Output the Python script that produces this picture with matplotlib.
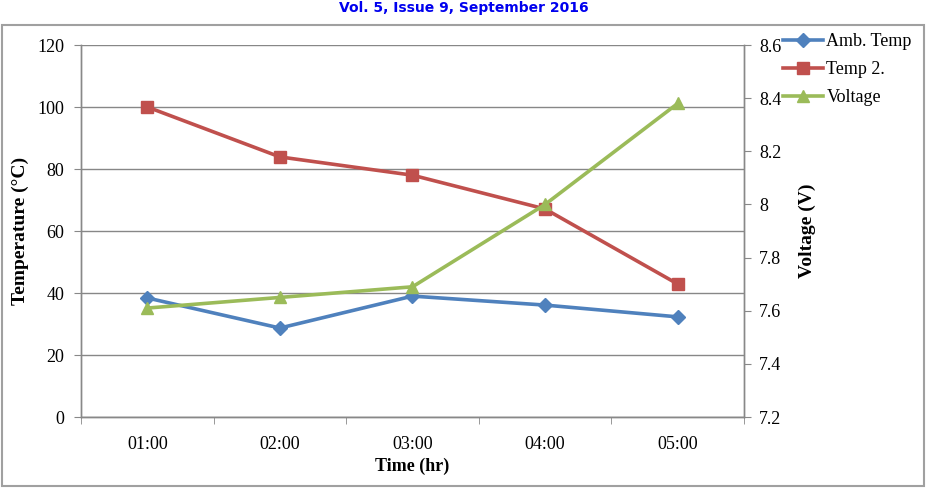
import matplotlib.pyplot as plt
from matplotlib.patches import Rectangle

times = ["01:00", "02:00", "03:00", "04:00", "05:00"]
amb_temp = [38.4, 28.7, 39.0, 36.1, 32.3]
temp2 = [100, 83.9, 78, 67.1, 42.9]
voltage = [7.61, 7.65, 7.69, 8.0, 8.38]

plt.rcParams["font.family"] = ["Liberation Serif", "DejaVu Serif"]

fig = plt.figure(figsize=(9.28, 4.96), dpi=100)
ax = fig.add_axes([81 / 928, 1 - 417 / 496, (744 - 81) / 928, (417 - 45) / 496])
ax2 = ax.twinx()

x = list(range(1, len(times) + 1))
blue = "#4F81BD"
red = "#C0504D"
green = "#9BBB59"

l1, = ax.plot(x, amb_temp, color=blue, lw=2.6, marker="D", ms=7, label="Amb. Temp")
l2, = ax.plot(x, temp2, color=red, lw=2.6, marker="s", ms=8, label="Temp 2.")
l3, = ax2.plot(x, voltage, color=green, lw=2.6, marker="^", ms=9, label="Voltage")

ax.set_xlim(0.5, 5.5)
ax.set_ylim(0, 120)
ax.set_yticks(range(0, 121, 20))
ax2.set_ylim(7.2, 8.6)
ax2.set_yticks([7.2, 7.4, 7.6, 7.8, 8.0, 8.2, 8.4, 8.6])
ax2.set_yticklabels(["7.2", "7.4", "7.6", "7.8", "8", "8.2", "8.4", "8.6"])

ax.set_xticks(x)
ax.set_xticklabels(times)
ax.set_xticks([0.5, 1.5, 2.5, 3.5, 4.5, 5.5], minor=True)
ax.tick_params(axis="x", which="major", length=0, pad=14, labelsize=13)
ax.tick_params(axis="x", which="minor", length=5, color="#888888")
ax.tick_params(axis="y", length=5, color="#888888", labelsize=13, pad=7)
ax2.tick_params(axis="y", length=5, color="#888888", labelsize=13, pad=6)

ax.grid(axis="y", color="#878787", lw=1)
ax.set_axisbelow(True)
for a in (ax, ax2):
    a.spines["top"].set_visible(False)
    for s in ("left", "right", "bottom"):
        a.spines[s].set_color("#888888")
        a.spines[s].set_linewidth(1)

ax.set_xlabel("Time (hr)", fontsize=13, fontweight="bold", labelpad=3)
ax.set_ylabel("Temperature (°C)", fontsize=14, fontweight="bold", labelpad=6)
ax2.set_ylabel("Voltage (V)", fontsize=14, fontweight="bold", labelpad=12)

fig.legend(handles=[l1, l2, l3], loc="upper left", bbox_to_anchor=(783 / 928, 1 - 33 / 496),
           frameon=False, fontsize=13, handlelength=2.2, handletextpad=0.2,
           labelspacing=0.62, borderaxespad=0, borderpad=0)

# outer chart border
fig.patches.append(Rectangle((2 / 928, 1 - 486 / 496), 922 / 928, 461 / 496,
                             transform=fig.transFigure, fill=False,
                             edgecolor="#A0A0A0", lw=1.5))

fig.text(0.5, 1 - 8 / 496, "Vol. 5, Issue 9, September 2016", ha="center", va="center",
         color="#0000EE", fontsize=10, fontweight="bold", family="DejaVu Sans")

fig.savefig("out.png", dpi=100)
